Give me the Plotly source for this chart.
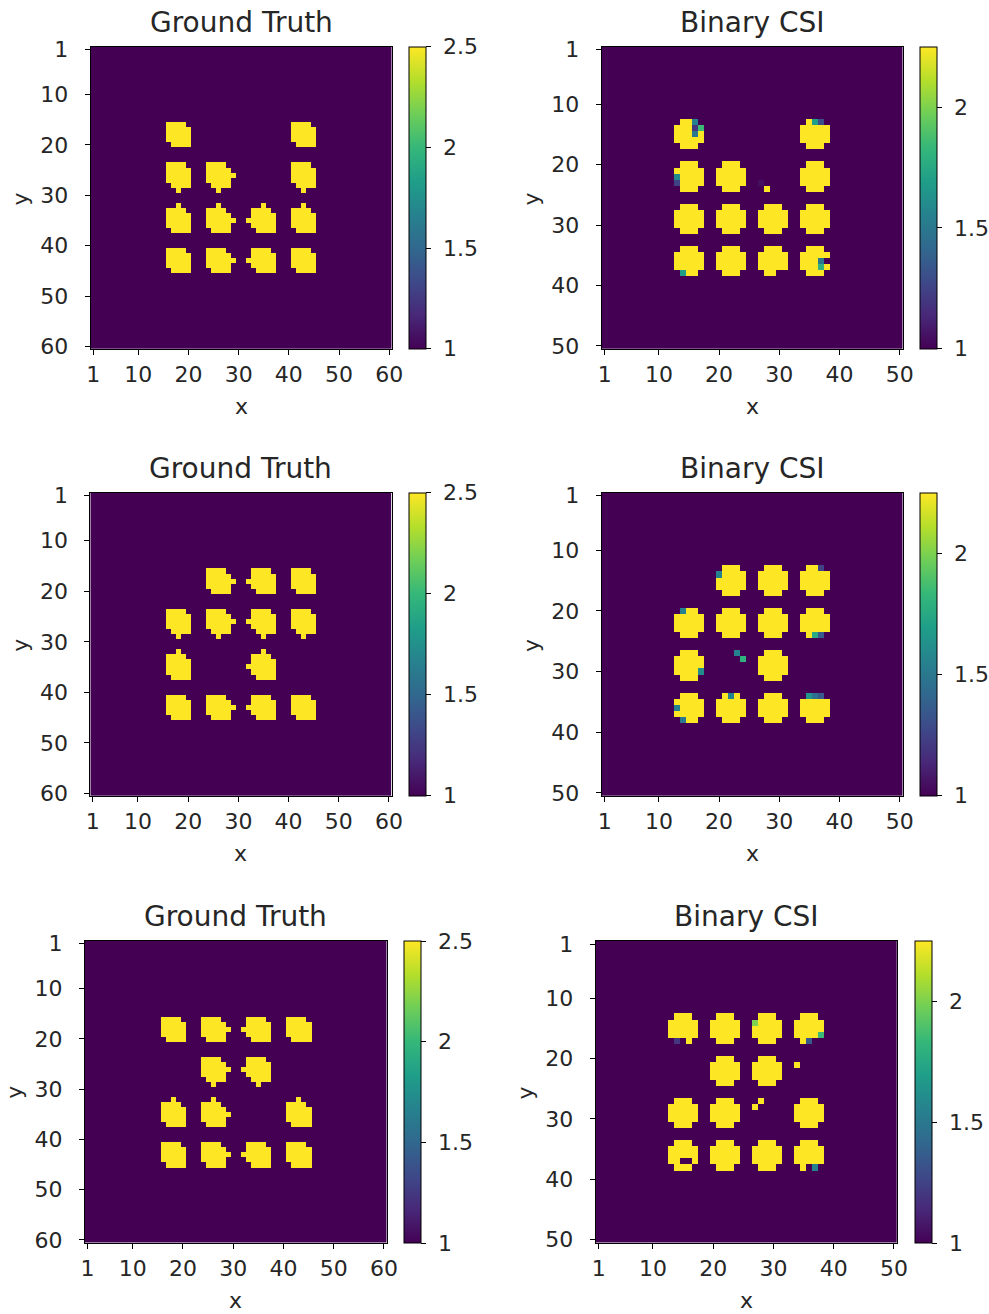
import plotly.graph_objects as go

W, H = 989, 1314

# ---------------- data ----------------
GT_N = 60            # ground-truth grid size
CSI_N = 50           # reconstruction grid size
GT_BG, GT_FG = 1.0, 2.5
CSI_BG, CSI_FG = 1.0, 2.25

gt_ticks = [1, 10, 20, 30, 40, 50, 60]
csi_ticks = [1, 10, 20, 30, 40, 50]
gt_cbar_ticks = [1, 1.5, 2, 2.5]
gt_cbar_text = ["1", "1.5", "2", "2.5"]
csi_cbar_ticks = [1, 1.5, 2]
csi_cbar_text = ["1", "1.5", "2"]

titles = ["Ground Truth", "Binary CSI"]

# first row / column (1-based) of each disk slot
gt_slots = [16, 24, 33, 41]
csi_slots = [13, 20, 27, 34]

# pixel shape of one disk
gt_disk = ["XXXX.", "XXXXX", "XXXXX", "XXXXX", ".XXXX"]
csi_disk = [".XXX.", "XXXXX", "XXXXX", "XXXXX", ".XXX."]

# one-pixel bumps on ground-truth disks (dx, dy from disk origin), per column slot / row slot
gt_col_bump = [None, (5, 2), (-1, 2), None]
gt_row_bump = [None, (2, 5), (2, -1), None]

# which disks are present (row slots top->bottom, column slots left->right)
layout_1 = ["1001", "1101", "1111", "1111"]
layout_2 = ["0111", "1111", "1010", "1111"]
layout_3 = ["1111", "0110", "1101", "1111"]

# Binary CSI pixels that differ from clean disks: (x, y, value)
csi_dev_1 = [(16, 13, 1.55), (16, 14, 1.2), (16, 15, 1.5), (17, 14, 1.85),
             (36, 13, 1.7), (37, 13, 1.3),
             (13, 22, 1.6), (13, 23, 1.25),
             (28, 24, 2.25), (27, 23, 1.05),
             (14, 38, 1.7), (30, 38, 1.0),
             (37, 36, 1.5), (38, 36, 1.0), (37, 37, 1.8)]
csi_dev_2 = [(20, 14, 1.55), (37, 13, 1.25),
             (14, 20, 1.55), (36, 24, 1.75), (37, 24, 1.35),
             (17, 30, 1.6), (23, 27, 1.55), (24, 28, 1.8),
             (13, 36, 1.55), (14, 38, 1.5), (22, 34, 1.55),
             (35, 34, 1.65), (36, 34, 1.45), (37, 34, 1.35)]
csi_dev_3 = [(14, 17, 1.2), (15, 17, 1.0),
             (27, 14, 2.0), (38, 16, 1.85), (36, 17, 1.35), (37, 17, 1.0),
             (34, 21, 2.25), (27, 28, 2.25), (28, 27, 2.25),
             (15, 37, 1.0), (16, 37, 1.0),
             (36, 38, 1.0), (37, 38, 1.55)]

layouts = [layout_1, layout_2, layout_3]
csi_devs = [csi_dev_1, csi_dev_2, csi_dev_3]

# plot-area pixel boxes (left, top, right, bottom) and colorbar left edges
gt_boxes = [(90.7, 46.7, 391.7, 349.0), (90.3, 492.7, 391.5, 796.0), (85.0, 941.0, 386.5, 1242.5)]
csi_boxes = [(601.7, 46.7, 902.7, 349.0), (601.7, 492.7, 902.7, 796.0), (595.7, 941.0, 897.0, 1242.5)]
gt_cbar_x = [409.3, 409.3, 404.3]
csi_cbar_x = [920.0, 920.0, 915.0]
CBAR_W = 17
LABEL_SHIFT = 12   # extra gap between colorbar and its tick labels


# ---------------- build images ----------------
def build(n, bg, fg, slots, disk, present, col_bump=None, row_bump=None, dev=()):
    z = [[bg] * n for _ in range(n)]
    for ri, line in enumerate(present):
        for ci, ch in enumerate(line):
            if ch != "1":
                continue
            r0, c0 = slots[ri], slots[ci]
            for dr, srow in enumerate(disk):
                for dc, s in enumerate(srow):
                    if s == "X":
                        z[r0 - 1 + dr][c0 - 1 + dc] = fg
            bumps = []
            if col_bump and col_bump[ci]:
                bumps.append(col_bump[ci])
            if row_bump and row_bump[ri]:
                bumps.append(row_bump[ri])
            for dx, dy in bumps:
                z[r0 - 1 + dy][c0 - 1 + dx] = fg
    for x, y, v in dev:
        z[y - 1][x - 1] = v
    return z


FONT = "DejaVu Sans"
TXT = "#262626"
TICK_SIZE = 22
TITLE_SIZE = 28
CLEAR = [[0, "rgba(0,0,0,0)"], [1, "rgba(0,0,0,0)"]]


def px(x):
    return x / W


def py(y):
    return 1 - y / H


fig = go.Figure()
annotations = []
k = 0
for row in range(3):
    for col in range(2):
        k += 1
        if col == 0:
            n, lo, hi = GT_N, GT_BG, GT_FG
            z = build(GT_N, GT_BG, GT_FG, gt_slots, gt_disk, layouts[row],
                      gt_col_bump, gt_row_bump)
            box = gt_boxes[row]
            cbx = gt_cbar_x[row]
            ticks = gt_ticks
            cticks, ctext = gt_cbar_ticks, gt_cbar_text
        else:
            n, lo, hi = CSI_N, CSI_BG, CSI_FG
            z = build(CSI_N, CSI_BG, CSI_FG, csi_slots, csi_disk, layouts[row],
                      dev=csi_devs[row])
            box = csi_boxes[row]
            cbx = csi_cbar_x[row]
            ticks = csi_ticks
            cticks, ctext = csi_cbar_ticks, csi_cbar_text
        l, t, r, b = box
        xa = "x" if k == 1 else f"x{k}"
        ya = "y" if k == 1 else f"y{k}"
        cb_common = dict(
            xanchor="left", xpad=0, y=py(t), yanchor="top", ypad=0,
            len=(b - t) / H, lenmode="fraction",
            thickness=CBAR_W, thicknessmode="pixels",
            tickvals=cticks, ticktext=ctext,
            tickfont=dict(family=FONT, size=TICK_SIZE, color=TXT),
        )
        # visible image with its colour bar (bar + tick marks)
        fig.add_trace(go.Heatmap(
            z=z, x=list(range(1, n + 1)), y=list(range(1, n + 1)),
            xaxis=xa, yaxis=ya,
            colorscale="Viridis", zmin=lo, zmax=hi,
            colorbar=dict(cb_common, x=px(cbx),
                          outlinewidth=1, outlinecolor="#000",
                          ticks="outside", ticklen=5, tickcolor="#000",
                          showticklabels=False),
        ))
        # transparent twin whose colour bar carries only the tick labels
        fig.add_trace(go.Heatmap(
            z=z, x=list(range(1, n + 1)), y=list(range(1, n + 1)),
            xaxis=xa, yaxis=ya, hoverinfo="skip", opacity=0,
            colorscale=CLEAR, zmin=lo, zmax=hi,
            colorbar=dict(cb_common, x=px(cbx + LABEL_SHIFT),
                          outlinewidth=0, ticks="", showticklabels=True),
        ))
        axis_common = dict(
            showline=True, mirror=True, linecolor="#000", linewidth=1,
            showgrid=False, zeroline=False, automargin=False,
            ticks="outside", ticklen=5, tickcolor="#000",
            tickvals=ticks, ticktext=[str(v) for v in ticks],
            tickfont=dict(family=FONT, size=TICK_SIZE, color=TXT),
        )
        fig.layout[("xaxis" if k == 1 else f"xaxis{k}")] = dict(
            axis_common, domain=[px(l), px(r)], anchor=ya,
            range=[0.5, n + 0.5], ticklabelstandoff=1)
        fig.layout[("yaxis" if k == 1 else f"yaxis{k}")] = dict(
            axis_common, domain=[py(b), py(t)], anchor=xa,
            range=[n + 0.5, 0.5], ticklabelstandoff=12)
        cx = (l + r) / 2
        annotations.append(dict(
            text=titles[col], x=px(cx), y=py(t - 24.5), xref="paper", yref="paper",
            xanchor="center", yanchor="middle", showarrow=False,
            font=dict(family=FONT, size=TITLE_SIZE, color=TXT)))
        annotations.append(dict(
            text="x", x=px(cx), y=py(b + 57.6), xref="paper", yref="paper",
            xanchor="center", yanchor="middle", showarrow=False,
            font=dict(family=FONT, size=TICK_SIZE, color=TXT)))
        annotations.append(dict(
            text="y", x=px(l - 70), y=py((t + b) / 2 + 1), xref="paper", yref="paper",
            xanchor="center", yanchor="middle", showarrow=False, textangle=-90,
            font=dict(family=FONT, size=TICK_SIZE, color=TXT)))

fig.update_layout(
    width=W, height=H,
    margin=dict(l=0, r=0, t=0, b=0, pad=0, autoexpand=False),
    paper_bgcolor="white", plot_bgcolor="white",
    showlegend=False,
    annotations=annotations,
)

fig.write_html(
    "out.html",
    config={"displayModeBar": False},
    post_script="document.body.style.margin='0px';document.body.style.padding='0px';"
                "document.documentElement.style.overflow='hidden';",
)
